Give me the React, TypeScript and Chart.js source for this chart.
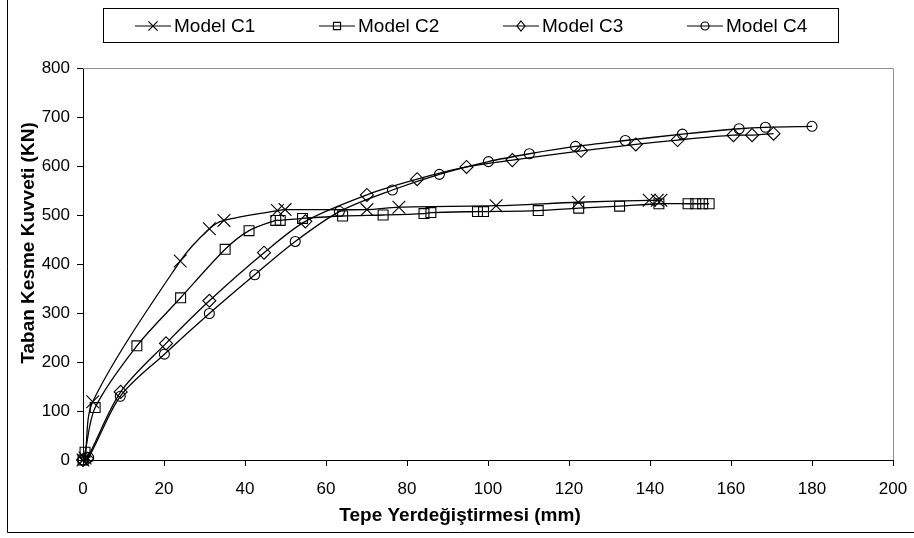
import React, { useEffect, useRef } from "react";
import { Chart, registerables } from "chart.js";

Chart.register(...registerables);

const seriesNames = ["Model C1", "Model C2", "Model C3", "Model C4"];

const c1X = [0, 0.5, 2.4, 24, 31.2, 34.8, 48, 49.9, 70.1, 78, 102, 122.3, 139.8, 141.8, 142.7];
const c1Y = [0, 4, 119, 406, 472, 489, 509, 511, 511, 516, 519, 526, 530, 530, 530];

const c2X = [0, 0.5, 3, 13.3, 24.1, 35.1, 41, 47.6, 48.7, 54.2, 64.1, 74.1, 84.2, 85.9, 97.4, 98.9, 112.4, 122.4, 132.5, 142.2, 149.4, 151.3, 153, 154.6];
const c2Y = [0, 16, 107, 233, 331, 430, 468, 489, 489, 493, 498, 500, 503, 505, 507, 507, 509, 514, 518, 523, 523, 523, 523, 523];

const c3X = [0, 1, 9.3, 20.5, 31.2, 44.7, 54.9, 70.1, 82.5, 94.7, 106, 123, 136.5, 146.8, 160.6, 165.2, 170.5];
const c3Y = [0, 3, 139, 238, 325, 423, 487, 541, 573, 598, 612, 631, 644, 653, 663, 663, 666];

const c4X = [0, 1.4, 9.2, 20.1, 31.2, 42.4, 52.4, 63.3, 76.4, 88, 100.1, 110.2, 121.6, 133.9, 148, 162, 168.5, 180];
const c4Y = [0, 5, 130, 216, 299, 378, 446, 507, 551, 583, 609, 625, 640, 652, 665, 676, 679, 681];

const xTickValues = [0, 20, 40, 60, 80, 100, 120, 140, 160, 180, 200];
const yTickValues = [0, 100, 200, 300, 400, 500, 600, 700, 800];

const xTitle = "Tepe Yerdeğiştirmesi (mm)";
const yTitle = "Taban Kesme Kuvveti (KN)";

const markerStyles = ["crossRot", "rect", "rectRot", "circle"];
const markerRadii = [9, 7, 6.5, 5];

const FONT = "'Liberation Sans', Arial, sans-serif";

function toPoints(xs: number[], ys: number[]) {
  return xs.map((x, i) => ({ x, y: ys[i] }));
}

function drawMarker(ctx: CanvasRenderingContext2D, style: string, x: number, y: number, r: number) {
  ctx.beginPath();
  if (style === "crossRot") {
    const d = r * Math.SQRT1_2;
    ctx.moveTo(x - d, y - d);
    ctx.lineTo(x + d, y + d);
    ctx.moveTo(x - d, y + d);
    ctx.lineTo(x + d, y - d);
  } else if (style === "rect") {
    const d = r * Math.SQRT1_2;
    ctx.rect(x - d, y - d, 2 * d, 2 * d);
  } else if (style === "rectRot") {
    ctx.moveTo(x, y - r);
    ctx.lineTo(x + r * 0.8, y);
    ctx.lineTo(x, y + r);
    ctx.lineTo(x - r * 0.8, y);
    ctx.closePath();
  } else {
    ctx.arc(x, y, r, 0, Math.PI * 2);
  }
  ctx.stroke();
}

const decorPlugin = {
  id: "decor",
  afterDraw(chart: any) {
    const ctx: CanvasRenderingContext2D = chart.ctx;
    const area = chart.chartArea;
    ctx.save();
    // outer frame (left and bottom visible)
    ctx.strokeStyle = "#000";
    ctx.lineWidth = 1;
    ctx.beginPath();
    ctx.moveTo(7.5, 0);
    ctx.lineTo(7.5, 532.5);
    ctx.lineTo(914, 532.5);
    ctx.stroke();

    // plot area top / right border
    ctx.strokeStyle = "#909090";
    ctx.beginPath();
    ctx.moveTo(area.left, Math.round(area.top) + 0.5);
    ctx.lineTo(Math.round(area.right) + 0.5, Math.round(area.top) + 0.5);
    ctx.lineTo(Math.round(area.right) + 0.5, area.bottom);
    ctx.stroke();

    // legend
    ctx.strokeStyle = "#000";
    ctx.lineWidth = 1;
    ctx.strokeRect(103.5, 8.5, 735, 34);
    ctx.font = "19px " + FONT;
    ctx.fillStyle = "#000";
    ctx.textBaseline = "middle";
    ctx.textAlign = "left";
    const ly = 26;
    chart.data.datasets.forEach((ds: any, i: number) => {
      const x0 = 135 + i * 184;
      ctx.lineWidth = 1.2;
      ctx.beginPath();
      ctx.moveTo(x0, ly);
      ctx.lineTo(x0 + 36, ly);
      ctx.stroke();
      drawMarker(ctx, markerStyles[i], x0 + 18, ly, i === 0 ? 6.5 : i === 3 ? 4 : 5);
      ctx.fillText(ds.label, x0 + 39, ly + 1);
    });

    // axis titles
    ctx.font = "bold 19px " + FONT;
    ctx.textAlign = "center";
    ctx.textBaseline = "middle";
    ctx.fillText(xTitle, 460, 516);
    ctx.translate(29, 243);
    ctx.rotate(-Math.PI / 2);
    ctx.fillText(yTitle, 0, 0);
    ctx.restore();
  },
};

export default function App() {
  const ref = useRef<HTMLCanvasElement | null>(null);

  useEffect(() => {
    if (!ref.current) return;
    const all = [
      toPoints(c1X, c1Y),
      toPoints(c2X, c2Y),
      toPoints(c3X, c3Y),
      toPoints(c4X, c4Y),
    ];
    const chart = new Chart(ref.current, {
      type: "line",
      data: {
        datasets: all.map((pts, i) => ({
          label: seriesNames[i],
          data: pts,
          borderColor: "#000",
          borderWidth: 1.3,
          backgroundColor: "rgba(0,0,0,0)",
          pointStyle: markerStyles[i] as any,
          pointRadius: markerRadii[i],
          pointBorderWidth: 1.1,
          pointBorderColor: "#000",
          pointBackgroundColor: "rgba(0,0,0,0)",
          tension: 0.3,
          fill: false,
          clip: false as any,
        })),
      },
      options: {
        animation: false,
        responsive: false,
        devicePixelRatio: 1,
        layout: { padding: { left: 0, top: 68, right: 21, bottom: 0 } },
        plugins: { legend: { display: false }, tooltip: { enabled: false } },
        scales: {
          x: {
            type: "linear",
            min: 0,
            max: 200,
            afterBuildTicks: (s: any) => {
              s.ticks = xTickValues.map((v) => ({ value: v }));
            },
            afterFit: (s: any) => {
              s.height = 78;
              s.paddingLeft = 0;
              s.paddingRight = 0;
            },
            ticks: {
              font: { family: FONT, size: 17 },
              color: "#000",
              padding: 13,
              maxRotation: 0,
            },
            grid: {
              drawOnChartArea: false,
              drawTicks: true,
              tickLength: 6,
              color: "#000",
              tickColor: "#000",
            },
            border: { color: "#000", width: 1 },
          },
          y: {
            type: "linear",
            min: 0,
            max: 800,
            afterBuildTicks: (s: any) => {
              s.ticks = yTickValues.map((v) => ({ value: v }));
            },
            afterFit: (s: any) => {
              s.width = 83;
              s.paddingTop = 0;
              s.paddingBottom = 0;
            },
            ticks: {
              font: { family: FONT, size: 17 },
              color: "#000",
              padding: 7,
            },
            grid: {
              drawOnChartArea: false,
              drawTicks: true,
              tickLength: 6,
              color: "#000",
              tickColor: "#000",
            },
            border: { color: "#000", width: 1 },
          },
        },
      },
      plugins: [decorPlugin],
    });
    return () => chart.destroy();
  }, []);

  return (
    <div style={{ position: "absolute", left: 0, top: 0, width: 914, height: 538, background: "#fff" }}>
      <canvas ref={ref} width={914} height={538} style={{ width: 914, height: 538, display: "block" }} />
    </div>
  );
}
